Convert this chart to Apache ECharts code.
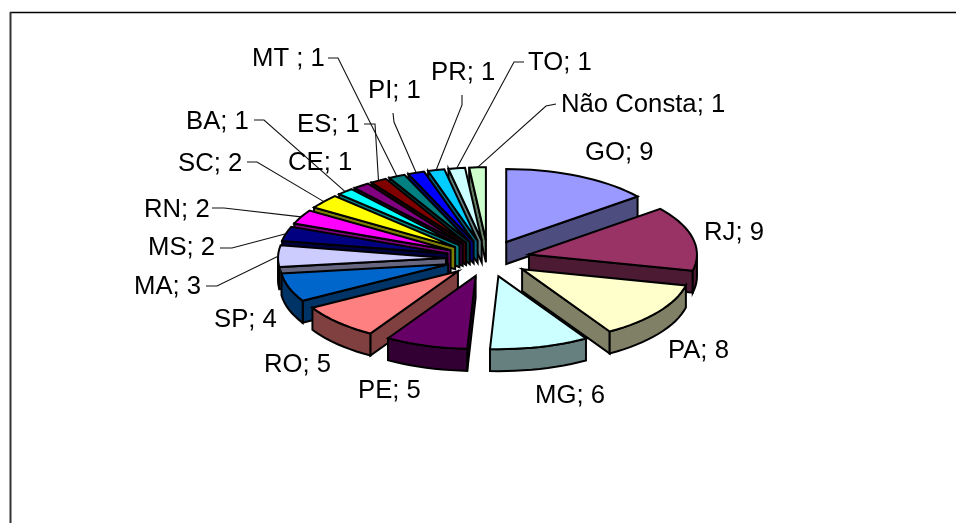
<!DOCTYPE html>
<html><head><meta charset="utf-8">
<style>html,body{margin:0;padding:0;background:#fff}#c{width:956px;height:523px}</style>
<script src="https://cdn.jsdelivr.net/npm/echarts@6/dist/echarts.min.js"></script>
</head><body><div id="c"></div>
<script>
const categories = ['GO','RJ','PA','MG','PE','RO','SP','MA','MS','RN','SC','BA','CE','ES','MT ','PI','PR','TO','Não Consta'];
const values = [9,9,8,6,5,5,4,3,2,2,2,1,1,1,1,1,1,1,1];
const colors = ['#9999FF','#993366','#FFFFCC','#CCFFFF','#660066','#FF8080','#0066CC','#CCCCFF','#000080','#FF00FF','#FFFF00','#00FFFF','#800080','#800000','#008080','#0000FF','#00CCFF','#CCFFFF','#CCFFCC'];
// label placement: text left x, text centre y
const labelPos = [[585,153],[704,233],[668,351],[535,396],[358,391],[264,365],[214,320],[134,287],[148,248],[144,210],[178,164],[186,122],[288,163],[297,125],[252,59],[368,91],[431,73],[528,63],[561,105]];
// leader start and elbow (null = no leader)
const leaders = [null,null,null,null,null,null,null,
 [[206,286],[217,286]],[[220,248],[232,248]],[[212,208],[224,208]],[[247,162],[257,162]],[[254,120],[264,120]],null,
 [[364,124],[375,124]],[[328,58],[338,58]],[[393,113],[394,122]],[[462,95],[462,105]],[[524,62],[514,62]],[[556,104],[546,106]]];

const CX=488, CY=258.5, RX=168, RY=73, DEPTH=22, EXPLODE=42;
const total = values.reduce((a,b)=>a+b,0);
const rad = d => d*Math.PI/180;
const slices = [];
let run = 0;
values.forEach((v,i)=>{
  const a0 = run/total*360; run += v; const a1 = run/total*360; const mid=(a0+a1)/2;
  const ax = CX+EXPLODE*Math.sin(rad(mid)), ay = CY-EXPLODE*Math.cos(rad(mid))*RY/RX;
  slices.push({i,a0,a1,mid,ax,ay});
});
const drawOrder = slices.slice().sort((p,q)=>Math.abs(q.mid-180)-Math.abs(p.mid-180));
const rim = (s,a,dz)=>[s.ax+RX*Math.sin(rad(a)), s.ay-RY*Math.cos(rad(a))+(dz||0)];
const arcPts = (s,a0,a1,dz)=>{const n=Math.max(2,Math.ceil((a1-a0)/3));const o=[];for(let k=0;k<=n;k++)o.push(rim(s,a0+(a1-a0)*k/n,dz));return o;};
const dark = h => '#'+[1,3,5].map(p=>Math.round(parseInt(h.substr(p,2),16)/2).toString(16).padStart(2,'0')).join('');
const edge = {stroke:'#000',lineWidth:2,lineJoin:'miter',miterLimit:8};
const poly = (points,fill)=>({type:'polygon',shape:{points},style:Object.assign({fill},edge)});

function renderSlice(params){
  const s = drawOrder[params.dataIndex];
  const side = dark(colors[s.i]);
  const kids = [];
  const apex=[s.ax,s.ay], apexB=[s.ax,s.ay+DEPTH];
  if(s.a0>=180) kids.push(poly([apex,rim(s,s.a0),rim(s,s.a0,DEPTH),apexB],side));
  if(s.a1<=180) kids.push(poly([apex,rim(s,s.a1),rim(s,s.a1,DEPTH),apexB],side));
  const w0=Math.max(s.a0,90), w1=Math.min(s.a1,270);
  if(w1>w0) kids.push(poly(arcPts(s,w0,w1,0).concat(arcPts(s,w0,w1,DEPTH).reverse()),side));
  kids.push(poly([apex].concat(arcPts(s,s.a0,s.a1,0)),colors[s.i]));
  return {type:'group',children:kids};
}
function renderLabel(params){
  const i=params.dataIndex, s=slices[i], kids=[];
  if(leaders[i]){
    const end=rim(s,s.mid);
    kids.push({type:'polyline',shape:{points:[leaders[i][0],leaders[i][1],end]},style:{stroke:'#111',lineWidth:1.1,fill:null}});
  }
  kids.push({type:'text',x:labelPos[i][0],y:labelPos[i][1],style:{text:categories[i]+'; '+values[i],fontFamily:'"Liberation Sans",Arial,sans-serif',fontSize:25.7,fill:'#000',align:'left',verticalAlign:'middle'}});
  return {type:'group',children:kids};
}
const chart = echarts.init(document.getElementById('c'),null,{renderer:'canvas'});
chart.setOption({
  animation:false,
  backgroundColor:'#fff',
  graphic:[
    {type:'line',shape:{x1:10,y1:12.5,x2:956,y2:12.5},style:{stroke:'#000',lineWidth:1.4}},
    {type:'line',shape:{x1:10.5,y1:12,x2:10.5,y2:523},style:{stroke:'#333',lineWidth:2}}
  ],
  series:[
    {type:'custom',coordinateSystem:'none',silent:true,z:2,renderItem:renderSlice,
     data:drawOrder.map(s=>({name:categories[s.i],value:values[s.i]}))},
    {type:'custom',coordinateSystem:'none',silent:true,z:3,renderItem:renderLabel,
     data:categories.map((c,i)=>({name:c,value:values[i]}))}
  ]
});
</script></body></html>
